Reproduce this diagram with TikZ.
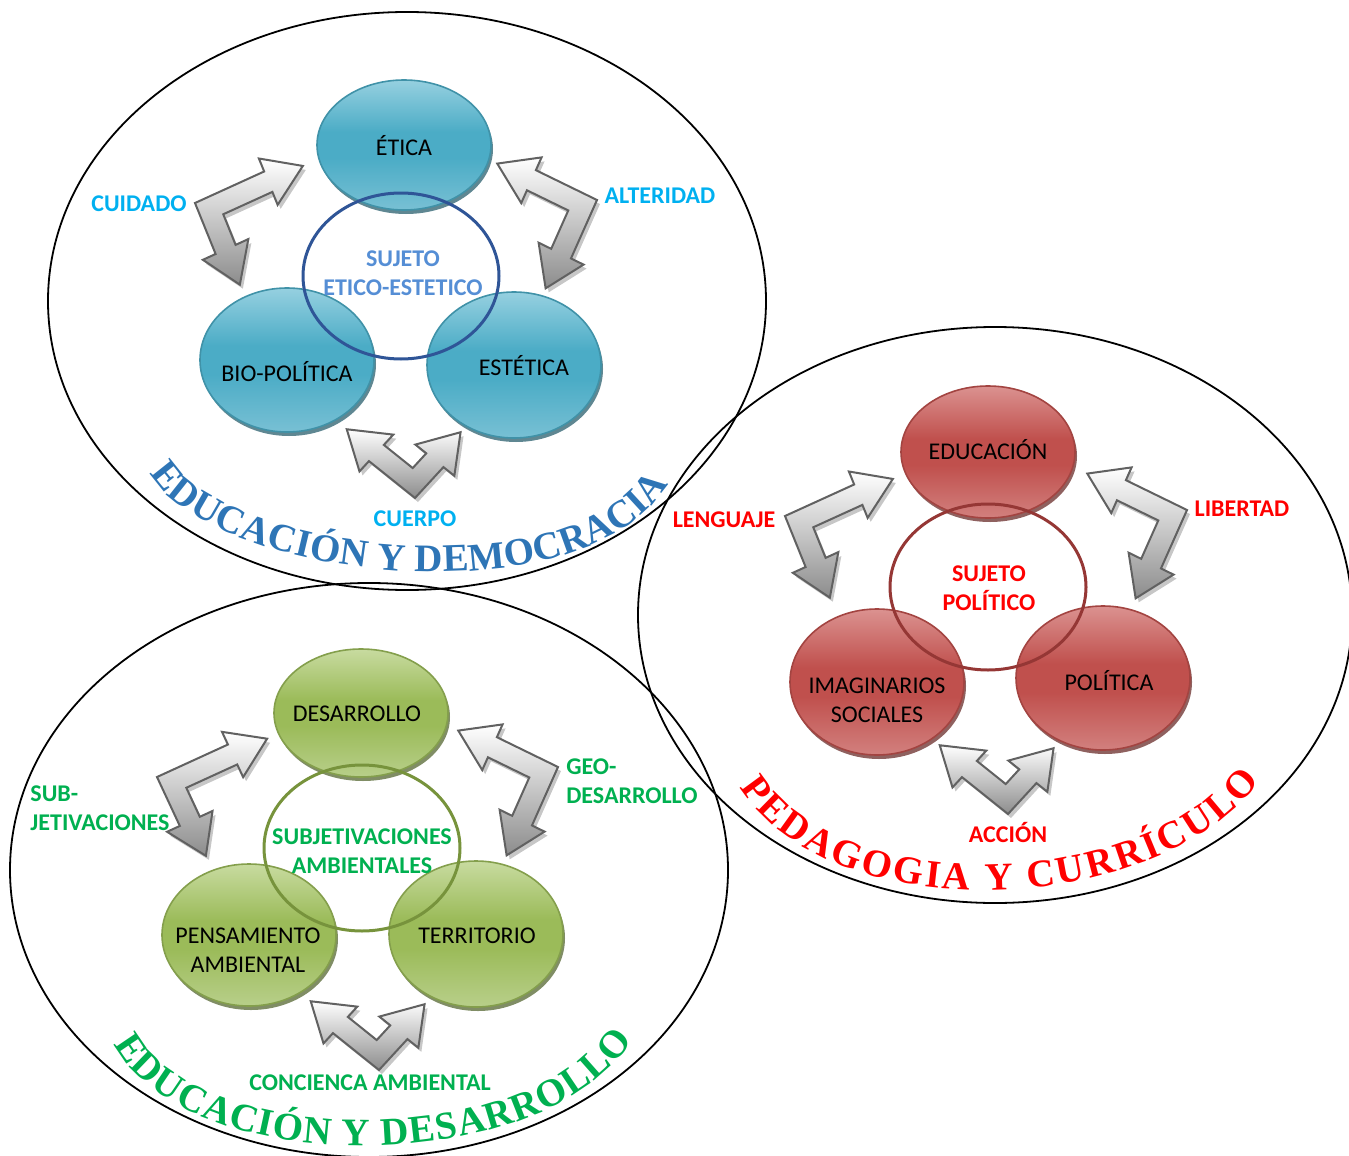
\documentclass[tikz,border=0pt]{standalone}
\usepackage{fontspec}
\setmainfont{Carlito}
\newfontfamily\titlefont{Liberation Serif}
\usetikzlibrary{calc,decorations.text}

% palette
\definecolor{tealbase}{RGB}{75,172,198}
\definecolor{tealtop}{RGB}{150,208,224}
\definecolor{tealbot}{RGB}{120,192,212}
\definecolor{redbase}{RGB}{192,80,77}
\definecolor{redtop}{RGB}{219,146,144}
\definecolor{redbot}{RGB}{210,128,126}
\definecolor{greenbase}{RGB}{155,187,89}
\definecolor{greentop}{RGB}{200,219,160}
\definecolor{greenbot}{RGB}{184,207,138}
\definecolor{cyanlabel}{RGB}{0,176,240}
\definecolor{sujetoblue}{RGB}{85,142,213}
\definecolor{titleblue}{RGB}{46,117,182}
\definecolor{labelred}{RGB}{255,0,0}
\definecolor{labelgreen}{RGB}{0,176,80}
\definecolor{ringblue}{RGB}{47,85,151}
\definecolor{ringred}{RGB}{149,55,53}
\definecolor{ringgreen}{RGB}{119,147,60}

% glossy vertical fills of the spheres (bottom to top)
\pgfdeclareverticalshading{tealball}{100bp}{color(0bp)=(tealbot); color(25bp)=(tealbot); color(45bp)=(tealbase); color(55bp)=(tealbase); color(75bp)=(tealtop); color(100bp)=(tealtop)}
\pgfdeclareverticalshading{redball}{100bp}{color(0bp)=(redbot); color(25bp)=(redbot); color(45bp)=(redbase); color(55bp)=(redbase); color(75bp)=(redtop); color(100bp)=(redtop)}
\pgfdeclareverticalshading{greenball}{100bp}{color(0bp)=(greenbot); color(25bp)=(greenbot); color(45bp)=(greenbase); color(55bp)=(greenbase); color(75bp)=(greentop); color(100bp)=(greentop)}

% bent double arrow: shaft width, half head width, head length
\def\aw{22}
\def\ahw{25}
\def\ahl{38}
\newcommand\dblarrow[6]{% #1 outer corner, #2/#3 angle/length of arm A, #4/#5 angle/length of arm B, #6 style
  \path[#6]
    (#1) -- ($(#1)+(#2:{#3-\ahl})$)
    -- ($(#1)+(#2:{#3-\ahl})+(#4:{\aw/2-\ahw})$)
    -- ($(#1)+(#2:#3)+(#4:{\aw/2})$)
    -- ($(#1)+(#2:{#3-\ahl})+(#4:{\aw/2+\ahw})$)
    -- ($(#1)+(#2:{#3-\ahl})+(#4:\aw)$)
    -- ($(#1)+(#2:\aw)+(#4:\aw)$)
    -- ($(#1)+(#2:\aw)+(#4:{#5-\ahl})$)
    -- ($(#1)+(#2:{\aw/2+\ahw})+(#4:{#5-\ahl})$)
    -- ($(#1)+(#2:{\aw/2})+(#4:#5)$)
    -- ($(#1)+(#2:{\aw/2-\ahw})+(#4:{#5-\ahl})$)
    -- ($(#1)+(#4:{#5-\ahl})$)
    -- cycle;
}
\newcommand\bentarrow[6]{% #1 name, #2 corner, #3-#6 arms
  \coordinate (#1s) at ($(#2)+(3,4)$);
  \coordinate (#1) at (#2);
  \dblarrow{#1s}{#3}{#4}{#5}{#6}{arrowshadow}
  \dblarrow{#1}{#3}{#4}{#5}{#6}{arrowbody}
}
% sphere with drop shadow
\newcommand\ball[4]{% #1 centre, #2 x radius, #3 y radius, #4 palette
  \fill[#4base!55!black, opacity=.75] ($(#1)+(2,4)$) ellipse [x radius=#2, y radius=#3];
  \shade[shading=#4ball, draw=#4base!85!black, line width=.8pt] (#1) ellipse [x radius=#2, y radius=#3];
}
\newcommand\titlestyle{\titlefont\bfseries\fontsize{19.5}{23}\selectfont}

\begin{document}
\begin{tikzpicture}[x=0.5pt, y=-0.5pt,
  balltext/.style={font=\fontsize{12}{14.5}\selectfont, text=black, align=center, inner sep=0pt},
  lab/.style={font=\bfseries\fontsize{12}{14.5}\selectfont, align=center, inner sep=0pt},
  ring/.style={line width=1.5pt},
  bigring/.style={line width=0.9pt, draw=black},
  arrowbody/.style={draw=black!62, line width=1pt, top color=white, bottom color=black!45, line join=miter},
  arrowshadow/.style={fill=black!22},
  title/.style={decorate, decoration={text along path, text align=fit to path, text={#1}}}]
\useasboundingbox (0,0) rectangle (1349,1156);
\clip (0,0) rectangle (1349,1156);

% three outer fields
\draw[bigring] (407,301) ellipse [x radius=359, y radius=289];
\draw[bigring] (995,615) ellipse [x radius=357, y radius=288];
\draw[bigring] (369,870) ellipse [x radius=359, y radius=287];

% curved titles
\path[title={|\titlestyle\color{titleblue}|EDUCACIÓN Y DEMOCRACIA}]
  (150,473) .. controls (211,580) and (583,623) .. (668,484);
\path[title={|\titlestyle\color{labelred}|PEDAGOGIA Y CURRÍCULO}]
  (740,787) .. controls (834,937) and (1166,913) .. (1259,781);
\path[title={|\titlestyle\color{labelgreen}|EDUCACIÓN Y DESARROLLO}]
  (114,1044) .. controls (187,1182) and (545,1179) .. (632,1040);

% ---- democracy cluster
\ball{404,145}{87}{65}{teal}
\ball{287,360}{87}{72}{teal}
\ball{514,365}{87}{73}{teal}
\draw[ring, ringblue] (401,276) ellipse [x radius=98, y radius=83];
\bentarrow{cuidadoarr}{195,203}{-24.5}{114}{68}{93}
\bentarrow{alteridadarr}{597,200}{206}{106}{114}{102}
\bentarrow{cuerpoarr}{415,498}{218.7}{97}{312.6}{80}
\node[balltext] (etica) at (404,146) {ÉTICA};
\node[balltext] (biopolitica) at (287,372) {BIO-POLÍTICA};
\node[balltext] (estetica) at (524,366) {ESTÉTICA};
\node[lab, text=sujetoblue] (sujetoee) at (403,273) {SUJETO\\ETICO-ESTETICO};
\node[lab, text=cyanlabel] (cuidado) at (139,204) {CUIDADO};
\node[lab, text=cyanlabel] (alteridad) at (660,196) {ALTERIDAD};
\node[lab, text=cyanlabel] (cuerpo) at (415,519) {CUERPO};

% ---- pedagogy cluster
\ball{988,452}{87}{66}{red}
\ball{877,682}{87}{73}{red}
\ball{1103,678}{87}{72}{red}
\draw[ring, ringred] (988,587) ellipse [x radius=98, y radius=83];
\bentarrow{lenguajearr}{785,516}{-24.5}{114}{68}{93}
\bentarrow{libertadarr}{1187,510}{206}{106}{114}{102}
\bentarrow{accionarr}{1008,814}{218.7}{97}{312.6}{80}
\node[balltext] (educacion) at (988,450) {EDUCACIÓN};
\node[balltext] (imaginarios) at (877,700) {IMAGINARIOS\\SOCIALES};
\node[balltext] (politica) at (1109,681) {POLÍTICA};
\node[lab, text=labelred] (sujetopol) at (989,588) {SUJETO\\POLÍTICO};
\node[lab, text=labelred] (lenguaje) at (724,520) {LENGUAJE};
\node[lab, text=labelred] (libertad) at (1242,509) {LIBERTAD};
\node[lab, text=labelred] (accion) at (1008,832) {ACCIÓN};

% ---- development cluster
\ball{361,713}{87}{64}{green}
\ball{249,935}{87}{71}{green}
\ball{476,934}{87}{73}{green}
\draw[ring, ringgreen] (362,848) ellipse [x radius=98, y radius=83];
\bentarrow{subarr}{157,777}{-24.6}{116}{65}{92}
\bentarrow{geoarr}{558,767}{206}{106}{114}{102}
\bentarrow{concarr}{379,1070}{218.7}{97}{312.6}{80}
\node[balltext] (desarrollo) at (357,714) {DESARROLLO};
\node[balltext] (pensamiento) at (248,950) {PENSAMIENTO\\AMBIENTAL};
\node[balltext] (territorio) at (477,936) {TERRITORIO};
\node[lab, text=labelgreen] (subjamb) at (362,851) {SUBJETIVACIONES\\AMBIENTALES};
\node[lab, text=labelgreen, align=left] (subjet) at (100,808) {SUB-\\JETIVACIONES};
\node[lab, text=labelgreen, align=left] (geodes) at (632,781) {GEO-\\DESARROLLO};
\node[lab, text=labelgreen] (concienca) at (370,1083) {CONCIENCA AMBIENTAL};
\end{tikzpicture}
\end{document}
